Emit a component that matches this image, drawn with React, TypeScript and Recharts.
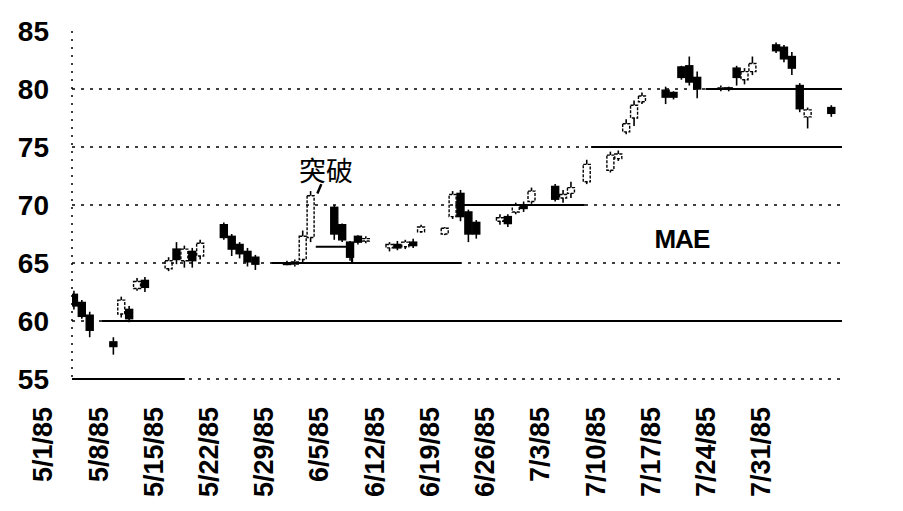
import React from 'react';
import { ComposedChart, Bar, XAxis, YAxis, ReferenceLine, ReferenceDot } from 'recharts';

const dates = [
  '1985-05-01', '1985-05-02', '1985-05-03', '1985-05-06', '1985-05-07', '1985-05-08', '1985-05-09', '1985-05-10',
  '1985-05-13', '1985-05-14', '1985-05-15', '1985-05-16', '1985-05-17', '1985-05-20', '1985-05-21', '1985-05-22',
  '1985-05-23', '1985-05-24', '1985-05-28', '1985-05-29', '1985-05-30', '1985-05-31', '1985-06-03', '1985-06-04',
  '1985-06-05', '1985-06-06', '1985-06-07', '1985-06-10', '1985-06-11', '1985-06-12', '1985-06-13', '1985-06-14',
  '1985-06-17', '1985-06-18', '1985-06-19', '1985-06-20', '1985-06-21', '1985-06-24', '1985-06-25', '1985-06-26',
  '1985-06-27', '1985-06-28', '1985-07-01', '1985-07-02', '1985-07-03', '1985-07-05', '1985-07-08', '1985-07-09',
  '1985-07-10', '1985-07-11', '1985-07-12', '1985-07-15', '1985-07-16', '1985-07-17', '1985-07-18', '1985-07-19',
  '1985-07-22', '1985-07-23', '1985-07-24', '1985-07-25', '1985-07-26', '1985-07-29', '1985-07-30', '1985-07-31',
  '1985-08-01', '1985-08-02', '1985-08-05',
];
const opens = [
  62.3, 61.6, 60.5, 58.2, 60.6, 61.0, 62.8, 63.5,
  64.5, 66.2, 65.2, 66.0, 65.6, 68.3, 67.3, 66.6,
  66.0, 65.5, 65.0, 64.9, 65.3, 67.2, 69.8, 68.3,
  66.8, 67.3, 66.9, 66.3, 66.6, 66.4, 66.8, 67.7,
  67.5, 69.0, 71.0, 69.4, 68.5, 68.6, 69.0, 69.4,
  70.0, 70.3, 71.6, 70.6, 71.0, 72.0, 73.0, 74.0,
  76.3, 77.5, 78.9, 79.9, 79.7, 81.9, 82.0, 81.0,
  80.0, 80.1, 81.8, 80.8, 81.5, 83.8, 83.6, 82.8,
  80.3, 77.6, 78.4,
];
const highs = [
  62.6, 61.8, 60.8, 58.6, 62.1, 61.3, 63.7, 63.8,
  65.5, 66.8, 66.5, 66.3, 67.0, 68.5, 67.5, 66.8,
  66.3, 65.7, 65.2, 65.3, 67.8, 71.2, 70.0, 68.4,
  66.9, 67.4, 67.3, 66.8, 66.9, 67.0, 67.1, 68.3,
  68.1, 71.2, 71.3, 69.6, 68.7, 69.2, 69.2, 70.2,
  70.3, 71.5, 71.8, 71.3, 72.0, 73.9, 74.6, 74.7,
  77.4, 79.0, 79.7, 80.2, 79.8, 82.0, 82.8, 81.5,
  80.3, 80.2, 82.0, 81.8, 82.8, 84.0, 83.8, 83.2,
  80.5, 78.4, 78.6,
];
const lows = [
  61.0, 60.2, 58.6, 57.1, 60.3, 59.9, 62.6, 62.5,
  64.3, 64.9, 64.6, 64.6, 65.3, 67.0, 65.6, 65.4,
  64.7, 64.4, 64.8, 64.7, 65.0, 66.8, 67.0, 66.8,
  65.2, 66.6, 66.7, 66.0, 66.1, 66.2, 66.3, 67.6,
  67.4, 68.8, 68.6, 66.8, 67.1, 68.3, 68.1, 69.2,
  69.4, 70.1, 70.3, 70.2, 70.6, 71.8, 72.8, 73.8,
  76.1, 76.8, 78.7, 78.7, 79.1, 80.8, 80.3, 79.2,
  79.8, 79.8, 80.3, 80.4, 81.2, 83.1, 82.3, 81.2,
  78.0, 76.6, 77.6,
];
const closes = [
  61.3, 60.4, 59.2, 57.8, 61.8, 60.2, 63.4, 62.9,
  65.2, 65.3, 66.2, 65.2, 66.7, 67.2, 66.2, 65.8,
  65.1, 64.9, 64.9, 65.1, 67.3, 70.8, 67.5, 67.0,
  65.5, 66.8, 67.1, 66.6, 66.3, 66.8, 66.5, 68.1,
  68.0, 70.9, 69.0, 67.5, 67.5, 68.9, 68.4, 70.0,
  69.7, 71.2, 70.5, 70.9, 71.5, 73.5, 74.3, 74.4,
  77.0, 78.6, 79.4, 79.3, 79.3, 81.0, 80.6, 80.0,
  80.1, 80.0, 81.0, 81.5, 82.2, 83.3, 82.6, 81.8,
  78.3, 78.2, 77.9,
];

const tickDates = [
  '1985-05-01', '1985-05-08', '1985-05-15', '1985-05-22', '1985-05-29', '1985-06-05', '1985-06-12',
  '1985-06-19', '1985-06-26', '1985-07-03', '1985-07-10', '1985-07-17', '1985-07-24', '1985-07-31',
];
const tickLabels = [
  '5/1/85', '5/8/85', '5/15/85', '5/22/85', '5/29/85', '6/5/85', '6/12/85',
  '6/19/85', '6/26/85', '7/3/85', '7/10/85', '7/17/85', '7/24/85', '7/31/85',
];
const yTicks = [55, 60, 65, 70, 75, 80, 85];
const gridLevels = [60, 65, 70, 75, 80];

// solid level lines (day offsets from 5/1/85 and price levels)
const segStartDay = [-0.3, 3.5, 25, 30.6, 35.2, 48.3, 65.5, 80];
const segEndDay = [14, 97.3, 49, 35.2, 35.2, 64.7, 97.3, 97.3];
const segStartLevel = [55, 60, 65, 66.4, 66.4, 70, 75, 80];
const segEndLevel = [55, 60, 65, 66.4, 65, 70, 75, 80];

const FONT = '"Liberation Sans", Arial, sans-serif';
const BASE = Date.UTC(1985, 4, 1);
const dayOf = (s: string) => {
  const [y, m, d] = s.split('-').map(Number);
  return Math.round((Date.UTC(y, m - 1, d) - BASE) / 86400000);
};

const data = dates.map((d, i) => ({
  day: dayOf(d),
  open: opens[i],
  high: highs[i],
  low: lows[i],
  close: closes[i],
  range: [lows[i], highs[i]],
}));
const tickDays = tickDates.map(dayOf);
const labelOfDay: Record<number, string> = {};
tickDays.forEach((d, i) => { labelOfDay[d] = tickLabels[i]; });

const Candle = (props: any) => {
  const { x, y, width, height, payload } = props;
  if (x == null || y == null) return null;
  const top = Math.min(y, y + height);
  const h = Math.abs(height);
  const { open, high, low, close } = payload;
  const pix = (v: number) => top + ((high - v) / (high - low || 1)) * h;
  const cx = x + width / 2;
  const bTop = pix(Math.max(open, close));
  const bBot = pix(Math.min(open, close));
  const down = close < open;
  return (
    <g>
      <line x1={cx} x2={cx} y1={top} y2={top + h} stroke="#000" strokeWidth={1.6} />
      <rect
        x={x}
        y={bTop}
        width={width}
        height={Math.max(bBot - bTop, 1.5)}
        fill={down ? '#000' : '#fff'}
        stroke="#000"
        strokeWidth={1.4}
        strokeDasharray={down ? undefined : '3 1.5'}
      />
    </g>
  );
};

const LeftTick = (props: any) => (
  <text x={props.x} y={props.y} textAnchor="end" dominantBaseline="central" fontSize={28} fontWeight="bold" fontFamily={FONT} fill="#000">
    {props.payload.value}
  </text>
);
const RightTick = (props: any) => (
  <text x={props.x} y={props.y} textAnchor="start" dominantBaseline="central" fontSize={28} fontFamily={FONT} fill="#000">
    {props.payload.value}
  </text>
);
const BottomTick = (props: any) => (
  <text
    transform={`translate(${props.x - 31},${props.y + 28}) rotate(-90)`}
    textAnchor="end"
    dominantBaseline="central"
    fontSize={27}
    fontWeight="bold"
    fontFamily={FONT}
    fill="#000"
  >
    {labelOfDay[props.payload.value] ?? ''}
  </text>
);

export default function App() {
  return (
    <ComposedChart width={895} height={503} data={data} margin={{ top: 23, right: 0, bottom: 0, left: 0 }}>
      <XAxis
        dataKey="day"
        type="number"
        domain={[-0.3, 97.3]}
        ticks={tickDays}
        allowDataOverflow
        height={132}
        tickSize={0}
        tickMargin={0}
        tickLine={false}
        axisLine={{ stroke: '#000', strokeWidth: 1.5, strokeDasharray: '3 6' }}
        tick={<BottomTick />}
        interval={0}
      />
      <YAxis
        yAxisId="left"
        orientation="left"
        domain={[55, 85]}
        ticks={yTicks}
        width={64}
        tickSize={0}
        tickMargin={23}
        tickLine={false}
        axisLine={{ stroke: '#000', strokeWidth: 1.5, strokeDasharray: '2 6' }}
        tick={<LeftTick />}
        interval={0}
      />
      <YAxis
        yAxisId="right"
        orientation="right"
        domain={[55, 85]}
        ticks={yTicks}
        width={61}
        tickSize={0}
        tickMargin={23}
        tickLine={false}
        axisLine={false}
        tick={<RightTick />}
        interval={0}
      />
      {gridLevels.map((lv) => (
        <ReferenceLine key={'g' + lv} yAxisId="left" y={lv} stroke="#000" strokeWidth={1.5} strokeDasharray="3 6" />
      ))}
      {segStartDay.map((s, i) => (
        <ReferenceLine
          key={'s' + i}
          yAxisId="left"
          segment={[{ x: s, y: segStartLevel[i] }, { x: segEndDay[i], y: segEndLevel[i] }]}
          stroke="#000"
          strokeWidth={2.2}
        />
      ))}
      <Bar yAxisId="left" dataKey="range" barSize={7} shape={<Candle />} isAnimationActive={false} />
      <ReferenceLine
        yAxisId="left"
        segment={[{ x: 31.3, y: 71.8 }, { x: 30.8, y: 71.0 }]}
        stroke="#000"
        strokeWidth={2.5}
      />
      <ReferenceDot
        yAxisId="left"
        x={31.9}
        y={72.9}
        r={0}
        label={{ value: '突破', position: 'center', fontSize: 27, fill: '#000', fontFamily: '"Noto Sans CJK TC", "Noto Sans CJK SC", sans-serif' }}
      />
      <ReferenceDot
        yAxisId="left"
        x={77}
        y={67.1}
        r={0}
        label={{ value: 'MAE', position: 'center', fontSize: 26, fontWeight: 'bold', fill: '#000', fontFamily: FONT, letterSpacing: -1 }}
      />
    </ComposedChart>
  );
}
